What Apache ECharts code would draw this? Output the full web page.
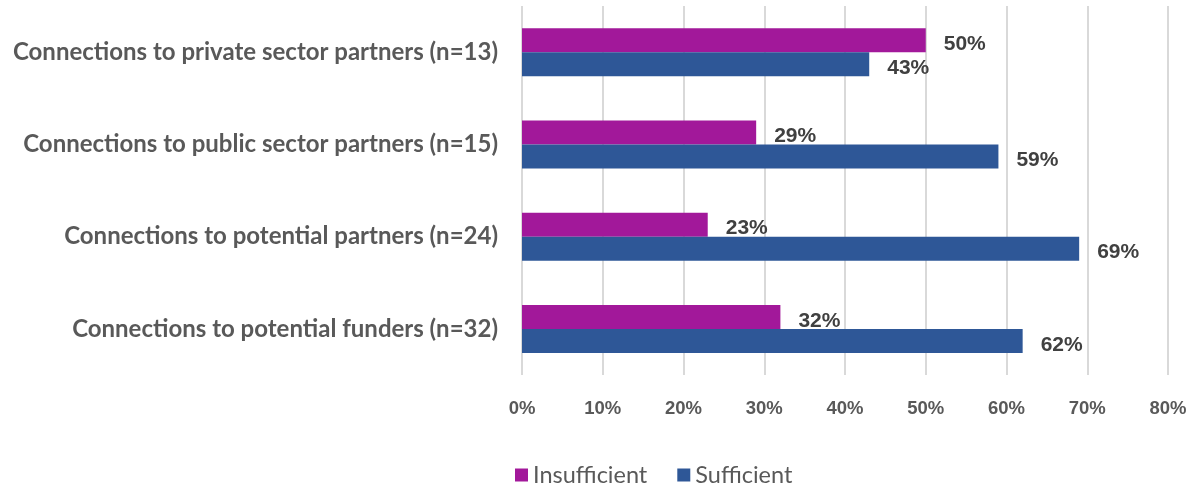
<!DOCTYPE html>
<html>
<head>
<meta charset="utf-8">
<script src="https://cdn.jsdelivr.net/npm/echarts@6/dist/echarts.min.js"></script>
<style>
  html, body { margin: 0; padding: 0; background: #fff; }
  #chart { width: 1191px; height: 485px; }
</style>
</head>
<body>
<div id="chart"></div>
<script>
// categories, top to bottom
var categories = [
  'Connections to private sector partners (n=13)',
  'Connections to public sector partners (n=15)',
  'Connections to potential partners (n=24)',
  'Connections to potential funders (n=32)'
]
// percent values
var insufficient = [50, 29, 23, 32]
var sufficient = [43, 59, 69, 62]
var seriesNames = ['Insufficient', 'Sufficient']

var myChart = echarts.init(document.getElementById('chart'))

var labelStyle = {
  show: true,
  position: 'right',
  distance: 18,
  offset: [0, 4],
  formatter: '{c}%',
  color: '#404040',
  fontFamily: 'Liberation Sans',
  fontWeight: 'bold',
  fontSize: 21
}

var option = {
  animation: false,
  grid: {
    left: 522,
    right: 23,
    top: 6,
    bottom: 110
  },
  legend: {
    data: seriesNames,
    left: 515,
    top: 463,
    padding: 0,
    itemWidth: 13,
    itemHeight: 13,
    itemGap: 30,
    icon: 'rect',
    textStyle: {
      color: '#595959',
      fontFamily: 'Lato',
      fontSize: 23.5
    }
  },
  xAxis: {
    type: 'value',
    min: 0,
    max: 80,
    interval: 10,
    axisLine: { show: false },
    axisTick: { show: false },
    splitLine: {
      show: true,
      lineStyle: { color: '#d9d9d9', width: 2 }
    },
    axisLabel: {
      formatter: '{value}%',
      color: '#595959',
      fontFamily: 'Liberation Sans',
      fontWeight: 'bold',
      fontSize: 18.5,
      margin: 24
    }
  },
  yAxis: {
    type: 'category',
    data: categories,
    inverse: true,
    axisLine: { show: false },
    axisTick: { show: false },
    axisLabel: {
      color: '#595959',
      fontFamily: 'Lato',
      fontWeight: 'bold',
      fontSize: 24,
      margin: 24
    }
  },
  series: [
    {
      name: 'Insufficient',
      type: 'bar',
      data: insufficient,
      barWidth: 24,
      barGap: '0%',
      itemStyle: { color: '#a2189a' },
      label: labelStyle
    },
    {
      name: 'Sufficient',
      type: 'bar',
      data: sufficient,
      barWidth: 24,
      barGap: '0%',
      itemStyle: { color: '#2e5797' },
      label: labelStyle
    }
  ]
}
myChart.setOption(option)
</script>
</body>
</html>
